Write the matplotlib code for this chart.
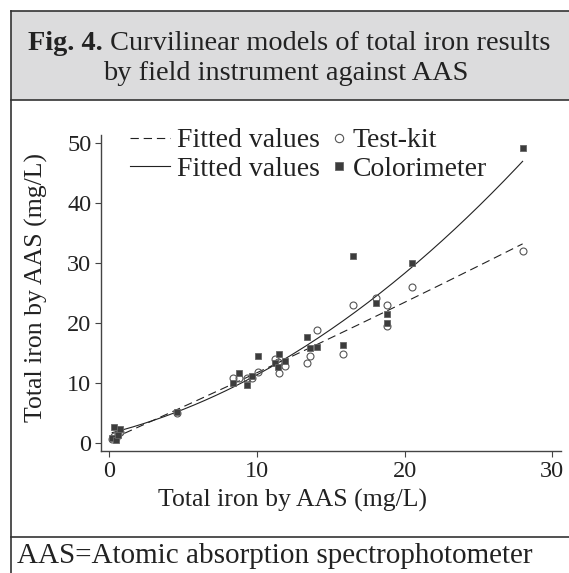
import matplotlib
matplotlib.use("Agg")
import matplotlib.pyplot as plt
from matplotlib.lines import Line2D
from matplotlib.patches import Rectangle
import numpy as np

plt.rcParams['font.family'] = ['Liberation Serif', 'DejaVu Serif']
plt.rcParams['lines.scale_dashes'] = False

# Total iron by AAS (mg/L) for each sample
aas = [0.2, 0.35, 0.45, 0.6, 0.7, 4.6, 8.4, 8.8, 9.3, 9.7, 10.1, 11.2, 11.4, 11.5,
       11.9, 13.4, 13.6, 14.1, 15.8, 16.5, 18.1, 18.8, 18.8, 20.5, 28.0]
# field instrument results for the same samples
test_kit = [0.7, 1.2, 0.9, 1.5, 1.8, 5.0, 10.8, 10.8, 10.8, 10.8, 11.8, 14.0, 13.5, 11.7,
            12.8, 13.3, 14.5, 18.9, 14.9, 23.0, 24.1, 23.0, 19.6, 26.0, 32.0]
colorimeter = [0.8, 2.7, 0.6, 1.4, 2.3, 5.2, 10.1, 11.7, 9.7, 11.2, 14.5, 13.3, 12.7, 14.8,
               13.7, 17.7, 15.8, 16.0, 16.4, 31.2, 23.4, 21.5, 20.0, 30.0, 49.1]

x_ticks = [0, 10, 20, 30]
y_ticks = [0, 10, 20, 30, 40, 50]

W, H = 569, 573
fig = plt.figure(figsize=(W / 100, H / 100), dpi=100)
INK = '#222222'

def fx(px):
    return px / W

def fy(py):
    return 1 - py / H

# header box and frame
fig.patches.append(Rectangle((fx(11), fy(100)), 1, fy(11) - fy(100), transform=fig.transFigure,
                             facecolor='#dcdcdd', edgecolor='none', zorder=0))
frame = dict(color='#333333', lw=1.2, transform=fig.transFigure)
fig.add_artist(Line2D([fx(11), 1], [fy(11), fy(11)], **frame))
fig.add_artist(Line2D([fx(11), 1], [fy(100), fy(100)], **frame))
fig.add_artist(Line2D([fx(11), fx(11)], [fy(11), 0], **frame))
fig.add_artist(Line2D([fx(11), 1], [fy(537), fy(537)], **frame))

# title (bold "Fig. 4." followed by regular text)
TS = 20.4
t1 = fig.text(0, fy(44), "Fig. 4.", fontsize=TS, fontweight='bold', va='center', color=INK)
t2 = fig.text(0, fy(44), " Curvilinear models of total iron results", fontsize=TS,
              va='center', color=INK)
fig.canvas.draw()
r = fig.canvas.get_renderer()
w1 = t1.get_window_extent(r).width
w2 = t2.get_window_extent(r).width
x0 = 289 - (w1 + w2) / 2
t1.set_x(fx(x0))
t2.set_x(fx(x0 + w1))
fig.text(fx(286), fy(73), "by field instrument against AAS", fontsize=TS, ha='center',
         va='center', color=INK)

# plot area
ax = fig.add_axes([fx(101), fy(451), fx(561) - fx(101), fy(135) - fy(451)])
xs = np.linspace(min(aas), max(aas), 200)
fit_tk = np.polyval(np.polyfit(aas, test_kit, 2), xs)
fit_col = np.polyval(np.polyfit(aas, colorimeter, 2), xs)

ax.plot(xs, fit_tk, color=INK, lw=0.8, linestyle=(0, (6, 3.5)))
ax.plot(xs, fit_col, color=INK, lw=0.8)
ax.plot(aas, test_kit, 'o', ms=5, mfc='none', mec='#555555', mew=0.8)
ax.plot(aas, colorimeter, 's', ms=4, mfc='#3c3c3c', mec='#666666', mew=0.6)

ax.set_xlim(-0.56, 30.6)
ax.set_ylim(-1.28, 51.3)
ax.set_xticks(x_ticks)
ax.set_yticks(y_ticks)
for s in ['top', 'right']:
    ax.spines[s].set_visible(False)
for s in ['left', 'bottom']:
    ax.spines[s].set_color('#444444')
    ax.spines[s].set_linewidth(1.0)
ax.tick_params(direction='out', length=4, width=0.8, color='#444444',
               labelsize=17.5, labelcolor=INK, pad=3)
ax.set_facecolor('none')

fig.text(fx(293), fy(500), "Total iron by AAS (mg/L)", fontsize=18.5, ha='center',
         va='center', color=INK)
fig.text(fx(36), fy(288), "Total iron by AAS (mg/L)", fontsize=18.5, ha='center',
         va='center', rotation=90, color=INK)
fig.text(fx(17), fy(556), "AAS=Atomic absorption spectrophotometer", fontsize=21,
         ha='left', va='center', color=INK)

# legend
LS = 20
h_dash = Line2D([], [], color=INK, lw=0.8, linestyle=(0, (6, 3.5)))
h_line = Line2D([], [], color=INK, lw=0.8)
h_circ = Line2D([], [], marker='o', ls='none', ms=6, mfc='none', mec='#555555', mew=0.8)
h_sq = Line2D([], [], marker='s', ls='none', ms=6, mfc='#3c3c3c', mec='#666666', mew=0.6)
leg_kw = dict(loc='upper left', frameon=False, fontsize=LS, handletextpad=0.25,
              labelspacing=0.1, borderpad=0, labelcolor=INK)
fig.legend([h_dash, h_line], ["Fitted values", "Fitted values"],
           bbox_to_anchor=(fx(116), fy(114)), handlelength=1.45, **leg_kw)
fig.legend([h_circ, h_sq], ["Test-kit", "Colorimeter"],
           bbox_to_anchor=(fx(318), fy(114)), handlelength=0.5, **leg_kw)

fig.savefig("out.png", dpi=100)
